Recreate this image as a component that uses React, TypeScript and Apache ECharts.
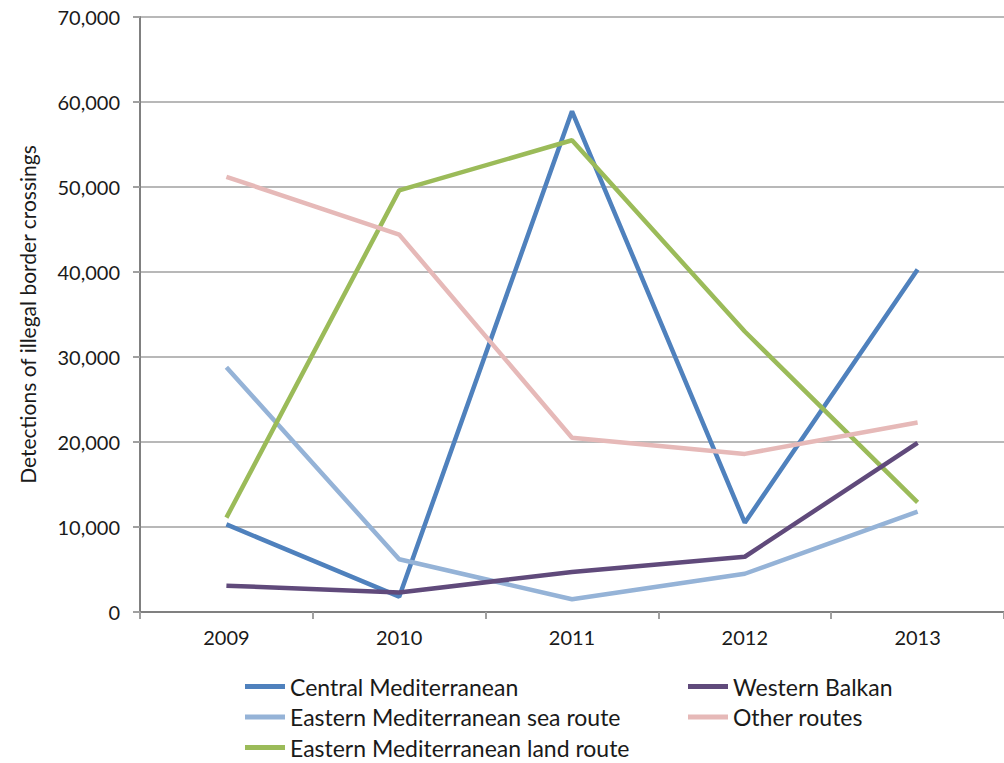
import React, { useEffect, useRef } from "react";
import * as echarts from "echarts";

const years = ["2009", "2010", "2011", "2012", "2013"];
const centralMed = [10300, 1800, 58900, 10500, 40300];
const easternMedSea = [28800, 6200, 1500, 4500, 11800];
const easternMedLand = [11100, 49600, 55500, 33000, 12900];
const westernBalkan = [3100, 2300, 4700, 6500, 19900];
const otherRoutes = [51200, 44400, 20500, 18600, 22300];

const FONT = "Lato";

export default function App() {
  const ref = useRef<HTMLDivElement>(null);
  useEffect(() => {
    document.body.style.margin = "0";
    const chart = echarts.init(ref.current!, null, { renderer: "svg" });
    const mk = (name: string, data: number[], color: string) => ({
      name,
      type: "line",
      data,
      symbol: "none",
      lineStyle: { color, width: 4.5 },
      itemStyle: { color },
    });
    const legendText = { color: "#1a1a1a", fontSize: 23, lineHeight: 22, fontFamily: FONT };
    chart.setOption({
      animation: false,
      backgroundColor: "#ffffff",
      textStyle: { fontFamily: FONT },
      grid: { left: 140, top: 17, width: 885, height: 595 },
      xAxis: {
        type: "category",
        data: years,
        boundaryGap: true,
        axisLine: { lineStyle: { color: "#808080", width: 2 } },
        axisTick: { show: true, length: 7, lineStyle: { color: "#a0a0a0", width: 2 } },
        axisLabel: { color: "#1a1a1a", fontSize: 20, fontFamily: FONT, margin: 15 },
      },
      yAxis: {
        type: "value",
        min: 0,
        max: 70000,
        interval: 10000,
        name: "Detections of illegal border crossings",
        nameLocation: "middle",
        nameRotate: 90,
        nameGap: 102,
        nameTextStyle: { color: "#1a1a1a", fontSize: 21, fontFamily: FONT },
        axisLine: { show: true, lineStyle: { color: "#808080", width: 2 } },
        axisTick: { show: true, length: 7, lineStyle: { color: "#a0a0a0", width: 2 } },
        axisLabel: {
          color: "#1a1a1a",
          fontSize: 20,
          fontFamily: FONT,
          margin: 20,
          formatter: (v: number) => v.toLocaleString("en-US"),
        },
        splitLine: { lineStyle: { color: "#b8b8b8", width: 2 } },
      },
      legend: [
        {
          data: ["Central Mediterranean", "Eastern Mediterranean sea route", "Eastern Mediterranean land route"],
          orient: "vertical",
          left: 245,
          top: 675,
          padding: 0,
          itemWidth: 40,
          itemHeight: 5,
          itemGap: 7.5,
          icon: "rect",
          textStyle: legendText,
        },
        {
          data: ["Western Balkan", "Other routes"],
          orient: "vertical",
          left: 688,
          top: 675,
          padding: 0,
          itemWidth: 40,
          itemHeight: 5,
          itemGap: 7.5,
          icon: "rect",
          textStyle: legendText,
        },
      ],
      series: [
        mk("Central Mediterranean", centralMed, "#4F81BD"),
        mk("Eastern Mediterranean sea route", easternMedSea, "#95B3D7"),
        mk("Eastern Mediterranean land route", easternMedLand, "#9BBB59"),
        mk("Western Balkan", westernBalkan, "#604A7B"),
        mk("Other routes", otherRoutes, "#E6B9B8"),
      ],
    });
    return () => chart.dispose();
  }, []);
  return <div ref={ref} style={{ width: 1004, height: 763 }} />;
}
